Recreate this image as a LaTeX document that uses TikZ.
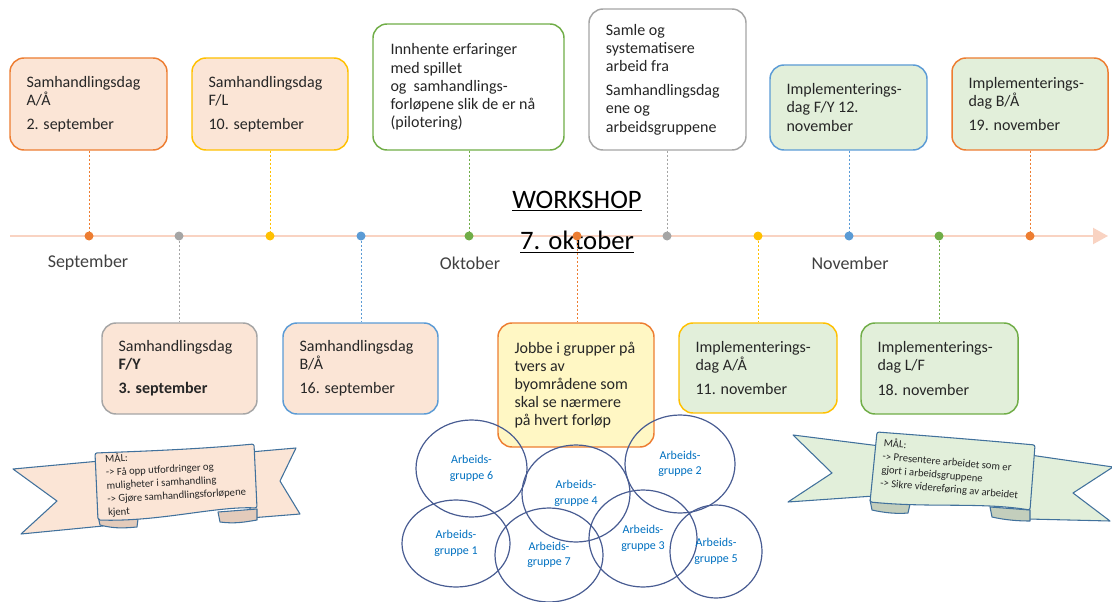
\documentclass[tikz,border=0pt]{standalone}
\usepackage{fontspec}
\setmainfont{Carlito}
\usetikzlibrary{shapes.geometric,arrows.meta}
\definecolor{cOr}{HTML}{ED7D31}
\definecolor{cGr}{HTML}{A5A5A5}
\definecolor{cYe}{HTML}{FFC000}
\definecolor{cBl}{HTML}{5B9BD5}
\definecolor{cGn}{HTML}{70AD47}
\definecolor{fPe}{HTML}{FBE5D6}
\definecolor{fGn}{HTML}{E2EFDA}
\definecolor{fYe}{HTML}{FFF7C4}
\definecolor{cLine}{HTML}{F9D3C2}
\definecolor{cTxt}{HTML}{262626}
\definecolor{cMon}{HTML}{404040}
\definecolor{cCirc}{HTML}{485C92}
\definecolor{cGrp}{HTML}{0070C0}
\definecolor{cRib}{HTML}{41719C}
\definecolor{fPeFold}{HTML}{E3CBBB}
\definecolor{fGnFold}{HTML}{C3CEBC}
\begin{document}
\begin{tikzpicture}[x=0.75pt,y=-0.75pt,
 box/.style={draw, rounded corners=10.5pt, line width=1.1pt},
 txt/.style={anchor=west, inner sep=0pt, align=left, text=cTxt, font=\fontsize{12}{13.6}\selectfont},
 dot/.style={circle, inner sep=0pt, minimum size=6.75pt},
 conn/.style={line width=0.7pt, dash pattern=on 1.5pt off 1.5pt},
 month/.style={text=cMon, font=\fontsize{13.5}{16}\selectfont},
 grp/.style={ellipse, draw=cCirc, line width=0.9pt, inner sep=0pt, align=center, text=cGrp, font=\fontsize{9}{11.5}\selectfont},
 rib/.style={draw=cRib, line width=0.8pt, line join=round},
 ribtxt/.style={align=left, inner sep=0pt, text=cTxt, font=\fontsize{8}{10}\selectfont},
 title/.style={text=black, inner sep=0pt, font=\fontsize{20}{24}\selectfont}
]
\useasboundingbox (0,0) rectangle (1112,602);

% timeline
\coordinate (t0) at (10,236);
\coordinate (t1) at (1108,236);
\draw[cLine, line width=1.6pt, -{Triangle[length=11.25pt,width=12pt]}] (t0) -- (t1);

% workshop title
\node[title] (ws) at (577,201) {\underline{WORKSHOP}};
\node[title] (wd) at (577,242) {\underline{7. oktober}};

% top boxes
\node[box, draw=cOr, fill=fPe, minimum width=117.75pt, minimum height=69pt] (A) at (88.5,104) {};
\node[txt] (At) at ([xshift=12.75pt]A.west) {Samhandlingsdag\\A/Å\\[4.5pt]2. september};
\node[box, draw=cYe, fill=fPe, minimum width=117pt, minimum height=69pt] (B) at (270,104) {};
\node[txt] (Bt) at ([xshift=12.75pt]B.west) {Samhandlingsdag\\F/L\\[4.5pt]10. september};
\node[box, draw=cGn, fill=white, minimum width=143.25pt, minimum height=94.5pt] (C) at (468.5,87) {};
\node[txt] (Ct) at ([xshift=13.5pt]C.west) {Innhente erfaringer\\med spillet\\og\ \ samhandlings-\\forløpene slik de er nå\\(pilotering)};
\node[box, draw=cGr, fill=white, minimum width=117.75pt, minimum height=105.75pt] (D) at (667.5,79.5) {};
\node[txt] (Dt) at ([xshift=13pt]D.west) {Samle og\\systematisere\\arbeid fra\\[4.5pt]Samhandlingsdag\\ene og\\arbeidsgruppene};
\node[box, draw=cBl, fill=fGn, minimum width=117.75pt, minimum height=63.75pt] (E) at (848.5,107.5) {};
\node[txt] (Et) at ([xshift=12.75pt]E.west) {Implementerings-\\dag F/Y 12.\\november};
\node[box, draw=cOr, fill=fGn, minimum width=117pt, minimum height=69pt] (F) at (1030,104) {};
\node[txt] (Ft) at ([xshift=12.75pt]F.west) {Implementerings-\\dag B/Å\\[4.5pt]19. november};

% bottom boxes
\node[box, draw=cGr, fill=fPe, minimum width=116.25pt, minimum height=68.25pt] (G) at (179.5,368.5) {};
\node[txt] (Gt) at ([xshift=12.75pt]G.west) {Samhandlingsdag\\\textbf{F/Y}\\[4.5pt]\textbf{3. september}};
\node[box, draw=cBl, fill=fPe, minimum width=116.25pt, minimum height=68.25pt] (H) at (360.5,368.5) {};
\node[txt] (Ht) at ([xshift=12.75pt]H.west) {Samhandlingsdag\\B/Å\\[4.5pt]16. september};
\node[box, draw=cOr, fill=fYe, minimum width=117pt, minimum height=93pt] (I) at (576,385) {};
\node[txt] (It) at ([xshift=12.75pt]I.west) {Jobbe i grupper på\\tvers av\\byområdene som\\skal se nærmere\\på hvert forløp};
\node[box, draw=cYe, fill=fGn, minimum width=118.5pt, minimum height=67.5pt] (J) at (758,368) {};
\node[txt] (Jt) at ([xshift=12.75pt]J.west) {Implementerings-\\dag A/Å\\[4.5pt]11. november};
\node[box, draw=cGn, fill=fGn, minimum width=117.75pt, minimum height=68.25pt] (K) at (939.5,368.5) {};
\node[txt] (Kt) at ([xshift=12.75pt]K.west) {Implementerings-\\dag L/F\\[4.5pt]18. november};

% dots
\node[dot, fill=cOr] (d1) at (89,236) {};
\node[dot, fill=cGr] (d2) at (179,236) {};
\node[dot, fill=cYe] (d3) at (270,236) {};
\node[dot, fill=cBl] (d4) at (361,236) {};
\node[dot, fill=cGn] (d5) at (469,236) {};
\node[dot, fill=cOr] (d6) at (577,236) {};
\node[dot, fill=cGr] (d7) at (667,236) {};
\node[dot, fill=cYe] (d8) at (758,236) {};
\node[dot, fill=cBl] (d9) at (849,236) {};
\node[dot, fill=cGn] (d10) at (939,236) {};
\node[dot, fill=cOr] (d11) at (1030,236) {};

% connectors
\draw[conn, cOr] (A.south -| d1) -- (d1);
\draw[conn, cYe] (B.south -| d3) -- (d3);
\draw[conn, cGn] (C.south -| d5) -- (d5);
\draw[conn, cGr] (D.south -| d7) -- (d7);
\draw[conn, cBl] (E.south -| d9) -- (d9);
\draw[conn, cOr] (F.south -| d11) -- (d11);
\draw[conn, cGr] (d2) -- (G.north -| d2);
\draw[conn, cBl] (d4) -- (H.north -| d4);
\draw[conn, cOr] (d6) -- (I.north -| d6);
\draw[conn, cYe] (d8) -- (J.north -| d8);
\draw[conn, cGn] (d10) -- (K.north -| d10);

% months
\node[month] (mS) at (88,263) {September};
\node[month] (mO) at (470,263) {Oktober};
\node[month] (mN) at (850,263) {November};

% left ribbon
\draw[rib, fill=fPe] (13,469) -- (100,461) -- (103,526) -- (21,534) -- (57,501) -- cycle;
\draw[rib, fill=fPe] (250,452) -- (296,448) -- (280,481) -- (300,514) -- (250,518) -- cycle;
\draw[rib, fill=fPeFold] (98,516) -- (100,525) .. controls (115,529) and (125,528) .. (137,527) -- (138,519) -- cycle;
\draw[rib, fill=fPeFold] (218,512) -- (220,522) .. controls (235,524) and (245,522) .. (257,520) -- (257,509) -- cycle;
\draw[rib, fill=fPe, rounded corners=1.5pt] (95,453) .. controls (150,451) and (200,449) .. (254,444) -- (257,508) .. controls (215,506) and (160,522) .. (98,520) -- cycle;
\node[ribtxt, rotate=3] (Lt) at (176,482) {MÅL:\\-> Få opp utfordringer og\\muligheter i samhandling\\-> Gjøre samhandlingsforløpene\\kjent};

% right ribbon
\draw[rib, fill=fGn] (793,435) -- (880,446) -- (874,496) -- (788,502) -- (832,473) -- cycle;
\draw[rib, fill=fGn] (1030,455) -- (1113,467) -- (1073,493) -- (1110,521) -- (1028,519) -- cycle;
\draw[rib, fill=fGnFold] (870,500) -- (872,510) .. controls (885,513) and (898,514) .. (908,513) -- (910,504) -- cycle;
\draw[rib, fill=fGnFold] (990,507) -- (992,517) .. controls (1005,520) and (1018,521) .. (1030,521) -- (1030,510) -- cycle;
\draw[rib, fill=fGn, rounded corners=1.5pt] (877,432) .. controls (930,436) and (980,440) .. (1035,445) -- (1030,510) .. controls (980,502) and (930,508) .. (870,502) -- cycle;
\node[ribtxt, rotate=-5] (Rt) at (951,469) {MÅL:\\-> Presentere arbeidet som er\\gjort i arbeidsgruppene\\-> Sikre videreføring av arbeidet};

% groups
\node[grp, minimum width=83.25pt, minimum height=72.75pt] (g6) at (471.5,468.5) {Arbeids-\\gruppe 6};
\node[grp, minimum width=81pt, minimum height=72.75pt] (g4) at (576,493.5) {Arbeids-\\gruppe 4};
\node[grp, minimum width=82.5pt, minimum height=73.5pt] (g2) at (680,464) {Arbeids-\\gruppe 2};
\node[grp, minimum width=81pt, minimum height=65.25pt] (g1) at (456,543.5) {Arbeids-\\gruppe 1};
\node[grp, minimum width=81pt, minimum height=70.5pt] (g7) at (549,555) {Arbeids-\\gruppe 7};
\node[grp, minimum width=81pt, minimum height=72.75pt] (g3) at (643,538.5) {Arbeids-\\gruppe 3};
\node[grp, minimum width=69pt, minimum height=69.75pt] (g5) at (716,551.5) {Arbeids-\\gruppe 5};
\end{tikzpicture}
\end{document}
